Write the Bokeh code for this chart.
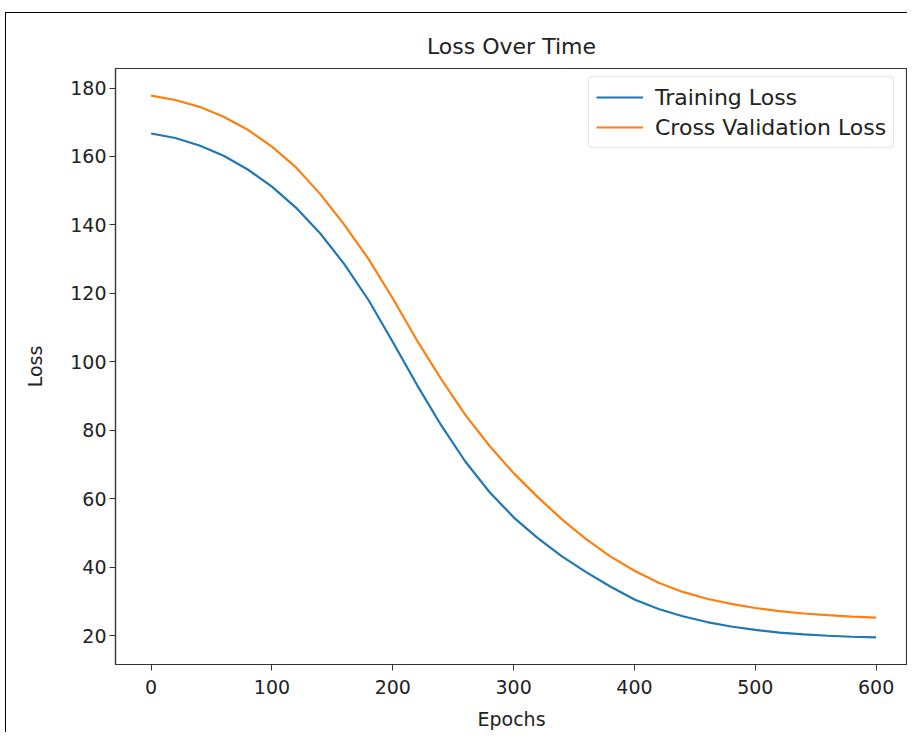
from bokeh.plotting import figure
from bokeh.models import Range1d, FixedTicker, Legend, LegendItem, InlineStyleSheet
from bokeh.embed import file_html
from bokeh.resources import INLINE

epochs = [0, 20, 40, 60, 80, 100, 120, 140, 160, 180, 200, 220, 240, 260, 280, 300,
          320, 340, 360, 380, 400, 420, 440, 460, 480, 500, 520, 540, 560, 580, 600]
training_loss = [166.7, 165.4, 163.2, 160.2, 156.2, 151.2, 145.0, 137.5, 128.5, 118.0,
                 105.8, 93.3, 81.5, 70.9, 62.0, 54.6, 48.5, 43.2, 38.6, 34.4,
                 30.6, 27.8, 25.7, 24.0, 22.7, 21.7, 20.9, 20.4, 20.0, 19.7, 19.5]
validation_loss = [177.8, 176.5, 174.5, 171.6, 167.8, 162.9, 156.8, 149.0, 140.0, 130.0,
                   118.5, 106.3, 95.0, 84.5, 75.5, 67.5, 60.5, 54.0, 48.2, 43.2,
                   39.0, 35.5, 32.8, 30.8, 29.3, 28.1, 27.2, 26.5, 26.0, 25.6, 25.3]
x_ticks = [0, 100, 200, 300, 400, 500, 600]
y_ticks = [20, 40, 60, 80, 100, 120, 140, 160, 180]

FONT = "DejaVu Sans"
TXT = "#222222"

p = figure(width=907, height=732, output_backend="svg", toolbar_location=None,
           x_range=Range1d(-29.5, 626), y_range=Range1d(11.6, 185.7),
           min_border_left=115, min_border_right=0, min_border_top=68,
           min_border_bottom=66)

p.title.text = "Loss Over Time"
p.title.align = "center"
p.title.text_font = FONT
p.title.text_font_size = "22px"
p.title.text_font_style = "normal"
p.title.text_color = TXT
p.title.standoff = 19

p.grid.visible = False
p.outline_line_color = "#333333"
p.outline_line_width = 1.2
p.background_fill_color = "white"
p.border_fill_color = "white"

for ax in (p.xaxis[0], p.yaxis[0]):
    ax.major_label_text_font = FONT
    ax.major_label_text_font_size = "19px"
    ax.major_label_text_color = TXT
    ax.axis_label_text_font = FONT
    ax.axis_label_text_font_size = "19px"
    ax.axis_label_text_font_style = "normal"
    ax.axis_label_text_color = TXT
    ax.axis_line_color = "#333333"
    ax.axis_line_width = 1.2
    ax.major_tick_line_color = "#333333"
    ax.major_tick_out = 6
    ax.major_tick_in = 0
    ax.minor_tick_out = 0
    ax.minor_tick_in = 0

p.xaxis.major_label_standoff = 9
p.xaxis.axis_label_standoff = 11
p.yaxis.major_label_standoff = 3
p.yaxis.axis_label_standoff = 21

p.xaxis.ticker = FixedTicker(ticks=x_ticks)
p.yaxis.ticker = FixedTicker(ticks=y_ticks)
p.xaxis.axis_label = "Epochs"
p.yaxis.axis_label = "Loss"

r1 = p.line(epochs, training_loss, line_color="#1f77b4", line_width=2.2)
r2 = p.line(epochs, validation_loss, line_color="#ff7f0e", line_width=2.2)

legend = Legend(items=[LegendItem(label="Training Loss", renderers=[r1]),
                       LegendItem(label="Cross Validation Loss", renderers=[r2])],
                location=(473, 516))
legend.label_text_font = FONT
legend.label_text_font_size = "22px"
legend.label_text_color = TXT
legend.border_line_color = "#cccccc"
legend.border_line_width = 1
legend.glyph_width = 47
legend.glyph_height = 26
legend.label_height = 26
legend.label_standoff = 12
legend.spacing = 4
legend.padding = 7
legend.margin = 0
legend.background_fill_alpha = 0.8
try:
    legend.border_radius = 4
except Exception:
    pass
p.add_layout(legend)

p.stylesheets = [InlineStyleSheet(css=(
    ":host::after { content: ''; position: absolute; left: 5px; top: 12px; "
    "right: 0; bottom: 0; border-left: 1px solid black; border-top: 1px solid black; "
    "pointer-events: none; }"))]

open("out.html", "w").write(file_html(p, INLINE))
